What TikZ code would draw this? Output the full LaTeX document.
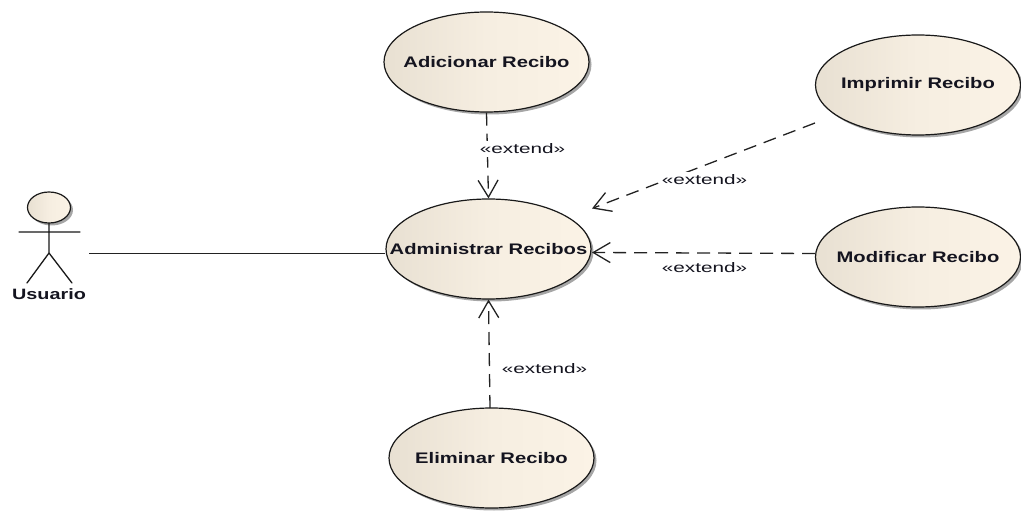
\documentclass[tikz,border=0pt]{standalone}
\usepackage{fontspec}
\setmainfont[FakeStretch=1.32]{Liberation Sans}
\newfontfamily\extfont[FakeStretch=1.5]{Liberation Sans}
\usetikzlibrary{shapes.geometric,shadows,arrows.meta}
\definecolor{ucleft}{HTML}{E8E0D2}
\definecolor{ucmid}{HTML}{F6EEE1}
\definecolor{ucright}{HTML}{FBF3E6}
\definecolor{inktext}{HTML}{14141F}
\definecolor{linegray}{HTML}{222222}
\tikzset{
  ucshape/.style={ellipse,draw=black!90,line width=1.2pt,inner sep=0pt,
    left color=ucleft,right color=ucright,middle color=ucmid,
    general shadow={shadow xshift=2.5pt,shadow yshift=-2.5pt,fill=black!35},
    minimum width=205pt,minimum height=100pt,
    font=\fontsize{15.3}{17}\selectfont\bfseries,text=inktext},
  extlabel/.style={fill=white,inner xsep=0pt,inner ysep=3pt,font=\extfont\fontsize{13.8}{15}\selectfont,text=inktext},
  extline/.style={draw=linegray,line width=1.3pt,dash pattern=on 13pt off 8pt,
    -{Straight Barb[length=17pt,width=20pt,line width=1.3pt]}},
  assoc/.style={draw=linegray,line width=1.3pt},
  stick/.style={draw=black!90,line width=1.3pt,line cap=round}
}
\newcommand{\uc}[1]{\makebox[0pt]{#1}}
\begin{document}
\begin{tikzpicture}[x=1pt,y=-1pt]
\useasboundingbox (0,0) rectangle (1021,513);
% use cases
\node[ucshape] (add) at (486.5,62) {\uc{Adicionar Recibo}};
\node[ucshape] (print) at (918,85) {\uc{Imprimir Recibo}};
\node[ucshape] (adm) at (488.5,249) {\uc{Administrar Recibos}};
\node[ucshape] (mod) at (918,257) {\uc{Modificar Recibo}};
\node[ucshape] (del) at (491.5,458) {\uc{Eliminar Recibo}};
% actor
\node[ellipse,draw=black!90,line width=1.2pt,inner sep=0pt,minimum width=43pt,minimum height=31pt,
  left color=ucleft,right color=ucright,middle color=ucmid,
  general shadow={shadow xshift=2.5pt,shadow yshift=-2.5pt,fill=black!35}] (head) at (49,207.5) {};
\coordinate (neck) at (49,232);
\coordinate (armL) at (19,232);
\coordinate (armR) at (80,232);
\coordinate (hip) at (49,253);
\coordinate (legL) at (27,283);
\coordinate (legR) at (72,283);
\draw[stick] (head.south) -- (hip) (armL) -- (armR) (legL) -- (hip) -- (legR);
\node[inner sep=0pt,font=\fontsize{15}{16}\selectfont\bfseries,text=inktext] (user) at (49,294) {Usuario};
% association
\coordinate (assocstart) at (89,253.5);
\draw[assoc] (assocstart) -- (assocstart -| adm.west);
% extend connectors
\coordinate (printend) at (592,208.5);
\coordinate (printstart) at (815,123);
\coordinate (modstart) at (815,253.5);
\coordinate (modend) at (592,252.5);
\coordinate (delstart) at (490,408);
\draw[extline] (add.south) -- (adm.north);
\draw[extline] (printstart) -- (printend);
\draw[extline] (modstart) -- (modend);
\draw[extline] (delstart) -- (adm.south);
% labels
\node[extlabel] (l1) at (522.5,149) {«extend»};
\node[extlabel] (l2) at (704.5,180) {«extend»};
\node[extlabel] (l3) at (704.5,268) {«extend»};
\node[extlabel] (l4) at (544.5,369) {«extend»};
\end{tikzpicture}
\end{document}
